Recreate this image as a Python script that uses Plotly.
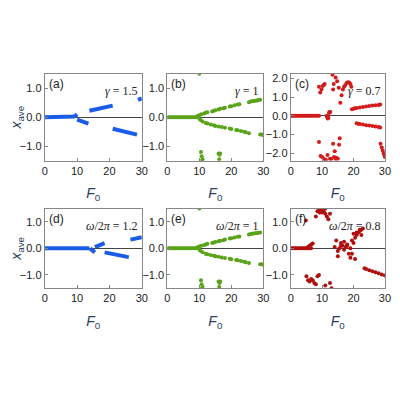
import plotly.graph_objects as go

# ---- data --------------------------------------------------------------------
# (a) gamma = 1.5, blue
a_x = [0, 1, 2, 3, 4, 5, 6, 7, 8, 9, 9.5, 10, None,
       10, 10.5, 11, 11.5, 12, 12.5, 13, 13.5, None,
       13.8, 15, 16, 17, 18, 19, 20, 21, None,
       21, 22, 23, 24, 25, 26, 27, 28, 28.5, None,
       28.8, 29.5, 30]
a_y = [0, 0, 0, 0, 0, 0, 0, 0, 0, 0.02, 0.05, 0.1, None,
       -0.08, -0.1, -0.12, -0.14, -0.16, -0.18, -0.2, -0.22, None,
       0.22, 0.25, 0.28, 0.3, 0.33, 0.36, 0.38, 0.4, None,
       -0.4, -0.43, -0.46, -0.49, -0.51, -0.53, -0.56, -0.58, -0.6, None,
       0.6, 0.63, 0.65]

# (b) gamma = 1, green
b_x = [0, 0.5, 1, 1.5, 2, 2.5, 3, 3.5, 4, 4.5, 5, 5.5, 6, 6.5, 7, 7.5, 8, 8.5, 9,
       9.3, 9.6, 10, 10.6, 11.5, 12, 12.5, 14, 14.5, 15, 16, 16.5, 17.5, 18, 19.5, 20, 21,
       22, 22.5, 25.5, 26, 26.5, 27, 27.5, 28, 28.5, 29,
       10, 10.4, 11, 12, 12.5, 13.5, 14.5, 15, 16, 17, 18, 19.5, 20, 21.5, 22, 23, 24, 24.5,
       25.5, 29, 29.5, 30,
       10, 10.5, 10.7, 11, 10.8, 16, 16.3, 16.2, 16.5]
b_y = [0] * 19 + [0.02, 0.05, 0.07, 0.1, 0.13, 0.15, 0.17, 0.2, 0.22, 0.24, 0.27, 0.29,
                  0.31, 0.33, 0.37, 0.38, 0.41,
                  0.44, 0.45, 0.52, 0.54, 0.55, 0.56, 0.57, 0.58, 0.59, 0.6] + \
      [-0.05, -0.1, -0.15, -0.2, -0.22, -0.25, -0.28, -0.3, -0.32, -0.34, -0.36, -0.39,
       -0.41, -0.44, -0.45, -0.48, -0.5, -0.52, -0.55, -0.6, -0.6, -0.62] + \
      [1.5, -1.2, -1.35, -1.45, -1.5, -1.25, -1.3, -1.45, -1.25]

# (c) gamma = 0.7, red
c_x = [0, 0.5, 1, 1.5, 2, 2.5, 3, 3.5, 4, 4.5, 5, 5.5, 6, 6.5, 7, 7.5, 8, 8.5, 9,
       9, 9.4, 9.8, 10.2, 10.5, 10.8, 11.5, 11.8, 12.3, 12.6, 13.3, 13.5, 13.7, 14.3, 14.8,
       15.3, 15.8, 16.2, 16.6, 17, 17.4, 17.8, 18.2, 18.6, 19, 19.3,
       19.5, 20, 20.5, 21, 22, 23, 24, 25, 26, 27, 28, 28.5,
       21, 21.5, 22, 23, 24, 25, 26, 27, 28, 28.5,
       28.6, 29, 29.3, 29.6, 29.8, 30,
       9, 9.5, 10, 10.5, 11.2, 11.7, 12.5, 13, 13.5, 14, 14.5, 15, 15.4, 15.6, 13.8, 14.3,
       11.5, 12, 12.2]
c_y = [0] * 19 + [1.55, 1.25, 1.4, 1.6, 1.65, 1.7, -0.05, -0.15, 0.2, 0.2, 2.2, 1.4, 1.7,
                  2.05, 1.85, 1.5, 0.7, 1.1, 1.4, 1.55, 1.65, 1.75, 1.8, 1.78, 1.7, 1.55,
                  0.35, 0.38, 0.4, 0.42, 0.45, 0.47, 0.5, 0.52, 0.55, 0.57, 0.58, 0.6] + \
      [-0.4, -0.42, -0.44, -0.47, -0.5, -0.52, -0.55, -0.57, -0.6, -0.62] + \
      [-1.5, -1.7, -1.85, -2.0, -2.1, -2.2] + \
      [-1.4, -2.15, -2.2, -2.3, -2.35, -2.1, -2.3, -2.3, -1.5, -1.9, -2.25, -2.3, -1.55, -1.2,
       -2.2, -2.3, 0.0, -0.1, 0.15]

# (d) omega/2pi = 1.2, blue
d_x = [0, 1, 2, 3, 4, 5, 6, 7, 8, 9, 10, 11, 12, 13, 13.8, None,
       14, 14.5, 15, 15.5, None, 15.5, 16.5, 17.5, 18.5, None,
       18.5, 19.5, 20.5, 21.5, 22.5, 23.5, 24.5, 25.5, 26, None,
       26.5, 27.5, 28.5, 29.5, 30]
d_y = [0] * 15 + [None,
       0.0, -0.05, -0.1, -0.15, None, 0.05, 0.1, 0.15, 0.2, None,
       -0.15, -0.18, -0.2, -0.22, -0.25, -0.27, -0.3, -0.32, -0.33, None,
       0.33, 0.35, 0.37, 0.4, 0.42]

# (e) omega/2pi = 1, green (same shape as (b))
e_x = b_x
e_y = b_y

# (f) omega/2pi = 0.8, dark red
f_x = [0, 0.5, 1, 1.5, 2, 2.5, 3, 3.5, 4, 4.5, 5, 5.5, 6, 6.5,
       5, 5.5, 6, 6.5, 7, 4.8,
       8, 8.5, 9, 9.5, 10, 10.5, 11, 11.5, 12, 12.5, 9.2, 10, 11,
       5, 5.5, 6, 6.5, 7, 7.5, 8, 8.5, 9, 11, 12.5, 13,
       14, 15, 15.5, 16, 16.5, 17, 17.5, 18, 18.5, 19, 19.5, 15, 16, 17, 18, 14.5, 19,
       20, 20.5, 21, 21.5, 22, 22.5, 23, 20, 21, 22, 22.5, 19.5, 20.5,
       23.5, 24, 25, 26, 27, 28, 29, 30]
f_y = [0] * 14 + [0.0, 0.05, 0.1, 0.15, 0.18, 1.05,
                  1.2, 1.4, 1.5, 1.45, 1.35, 1.4, 1.3, 1.2, 1.1, 1.3, 1.35, 1.45, 1.5,
                  -1.05, -1.2, -1.25, -1.15, -1.2, -1.3, -1.35, -1.05, -1.0, -1.4, -1.3, -1.5,
                  0.05, -0.1, 0.0, 0.2, 0.1, -0.05, 0.05, 0.1, -0.2, 0.0, 0.3, -0.3, 0.1, 0.25,
                  0.15, 0.3, -0.35,
                  0.2, 0.4, 0.5, 0.6, 0.65, 0.7, 0.75, 0.55, 0.6, 0.7, 0.5, -0.2, -0.4,
                  -0.75, -0.78, -0.82, -0.86, -0.9, -0.94, -0.98, -1.02]

labels = ["(a)", "(b)", "(c)", "(d)", "(e)", "(f)"]
params = ["<i>γ</i> = 1.5", "<i>γ</i> = 1", "<i>γ</i> = 0.7",
          "<i>ω</i>/2<i>π</i> = 1.2", "<i>ω</i>/2<i>π</i> = 1", "<i>ω</i>/2<i>π</i> = 0.8"]

#%% figure --------------------------------------------------------------------
BLUE, GREEN, RED, DRED = "#1a5ce6", "#5aa31a", "#d41a1a", "#b01010"

fig = go.Figure()
panels = [(a_x, a_y, BLUE, "lines"), (b_x, b_y, GREEN, "markers"), (c_x, c_y, RED, "markers"),
          (d_x, d_y, BLUE, "lines"), (e_x, e_y, GREEN, "markers"), (f_x, f_y, DRED, "markers")]

# page body has an 8px margin, so the figure is 384 px and shifted
xdoms = [[0.065, 0.331], [0.401, 0.664], [0.739, 0.997]]
ydoms = [[0.604, 0.831], [0.271, 0.479]]

for i, (xs, ys, col, mode) in enumerate(panels):
    n = "" if i == 0 else str(i + 1)
    fig.add_trace(go.Scatter(x=xs, y=ys, mode=mode, xaxis="x" + n, yaxis="y" + n,
                             line=dict(color=col, width=4),
                             marker=dict(color=col, size=4), showlegend=False))
    row, colidx = divmod(i, 3)
    yr = [-2.4, 2.25] if i == 2 else [-1.5, 1.5]
    ytv = [-2, -1, 0, 1, 2] if i == 2 else [-1, 0, 1]
    common = dict(showline=True, mirror=True, linecolor="#888", linewidth=1,
                  ticks="inside", ticklen=3, tickcolor="#888", showgrid=False,
                  tickfont=dict(size=11, color="#222", family="Arial"))
    fig.layout["xaxis" + n] = dict(domain=xdoms[colidx], range=[0, 30], tickvals=[0, 10, 20, 30],
                                   anchor="y" + n, zeroline=False,
                                   title=dict(text="<i>F</i><sub>0</sub>", standoff=12,
                                              font=dict(size=14, family="Arial")), **common)
    fig.layout["yaxis" + n] = dict(domain=ydoms[row], range=yr, tickvals=ytv, tickformat=".1f",
                                   anchor="x" + n, zeroline=True, zerolinecolor="#444",
                                   zerolinewidth=1, **common)
    if colidx == 0:
        fig.layout["yaxis" + n].title = dict(text="<i>x</i><sub>ave</sub>", standoff=2,
                                             font=dict(size=14, family="Arial"))
    fig.add_annotation(x=0.02, y=0.98, xref="x" + n + " domain", yref="y" + n + " domain",
                       text=labels[i], showarrow=False, xanchor="left", yanchor="top",
                       font=dict(size=12, family="Arial", color="#222"))
    fig.add_annotation(x=0.98, y=0.9, xref="x" + n + " domain", yref="y" + n + " domain",
                       text=params[i], showarrow=False, xanchor="right", yanchor="top",
                       font=dict(size=12, family="Liberation Serif", color="#222"))

fig.update_layout(width=384, height=384, margin=dict(l=0, r=0, t=0, b=0),
                  plot_bgcolor="white", paper_bgcolor="white")
fig.write_html("out.html")
